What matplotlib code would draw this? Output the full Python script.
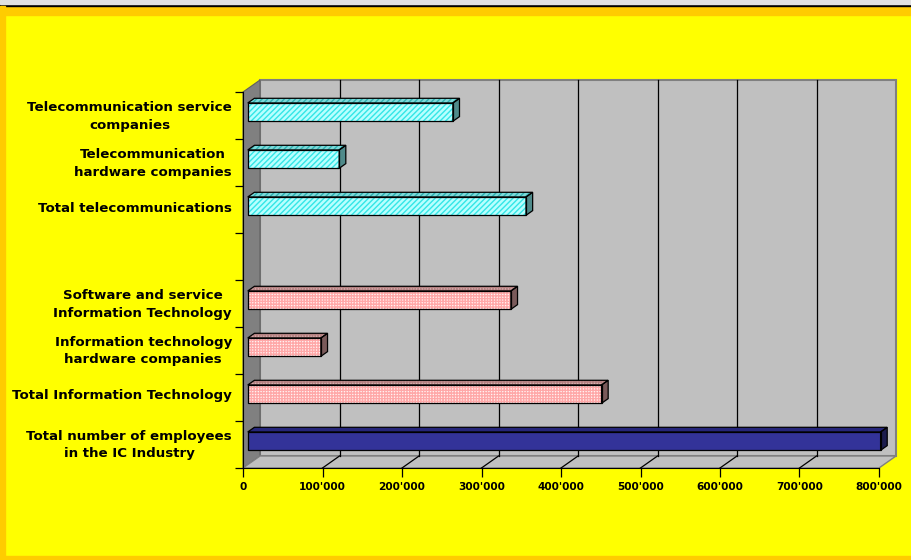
import matplotlib.pyplot as plt
import matplotlib.transforms as mtransforms
from matplotlib.patches import Polygon, Rectangle
from matplotlib.ticker import FuncFormatter

categories = [
    "Telecommunication service\ncompanies",
    "Telecommunication\nhardware companies",
    "Total telecommunications",
    "",
    "Software and service\nInformation Technology",
    "Information technology\nhardware companies",
    "Total Information Technology",
    "Total number of employees\nin the IC Industry",
]
employees = [258000, 115000, 350000, None, 331000, 92000, 445000, 796000]
groups = ["tel", "tel", "tel", None, "it", "it", "it", "ic"]
xticks = [0, 100000, 200000, 300000, 400000, 500000, 600000, 700000, 800000]

# front / top / side colours for each bar group
styles = {
    "tel": dict(front="#b8ffff", hatch_front="#33e6e6", top="#7fd9d9", hatch_top="#2fb0b0", side="#4f8a8a"),
    "it": dict(front="#fff4f4", hatch_front="#ffa8a8", top="#d9b3b3", hatch_top="#b38080", side="#7a5a5a"),
    "ic": dict(front="#333399", hatch_front=None, top="#26267a", hatch_top=None, side="#1c1c4d"),
}

W, H = 912, 560
fig = plt.figure(figsize=(W / 100, H / 100), dpi=100)
fig.patch.set_facecolor("#ffff00")

# frame around the sheet
fig.patches.append(Rectangle((0, 1 - 15 / H), 1, 9 / H, transform=fig.transFigure, color="#ffcc00", zorder=0))
fig.patches.append(Rectangle((0, 1 - 6 / H), 1, 2 / H, transform=fig.transFigure, color="black", zorder=0))
fig.patches.append(Rectangle((0, 1 - 4 / H), 1, 4 / H, transform=fig.transFigure, color="#e0e0e0", zorder=0))
fig.patches.append(Rectangle((0, 0), 5 / W, 1 - 6 / H, transform=fig.transFigure, color="#ffcc00", zorder=0))
fig.patches.append(Rectangle((0, 0), 1, 4 / H, transform=fig.transFigure, color="#ffcc00", zorder=0))

left, right, top, bottom = 243, 879, 92, 468
ax = fig.add_axes([left / W, (H - bottom) / H, (right - left) / W, (bottom - top) / H])
ax.set_facecolor("none")
n = len(categories)
xmax = xticks[-1]
ax.set_xlim(0, xmax)
ax.set_ylim(n - 0.5, -0.5)

# depth of the 3D box in pixels, converted to data units
px_x = xmax / (right - left)
px_y = n / (bottom - top)
Dx, Dy = 17 * px_x, 12 * px_y


def P(x, y, f):
    return (x + f * Dx, y - f * Dy)


def poly(pts, fc, ec="none", lw=0, hatch=None, z=1):
    p = Polygon(pts, closed=True, facecolor=fc, edgecolor=ec, linewidth=lw, hatch=hatch,
                clip_on=False, zorder=z)
    ax.add_patch(p)


y0, y1 = -0.5, n - 0.5
# back wall, left wall, floor
poly([P(0, y0, 1), P(xmax, y0, 1), P(xmax, y1, 1), P(0, y1, 1)], "#c0c0c0", "#808080", 1.5, z=0.5)
poly([P(0, y0, 0), P(0, y0, 1), P(0, y1, 1), P(0, y1, 0)], "#808080", "#606060", 0.8, z=0.6)
poly([P(0, y1, 0), P(xmax, y1, 0), P(xmax, y1, 1), P(0, y1, 1)], "#c0c0c0", "#808080", 1.0, z=0.6)

# gridlines on the back wall and floor
for v in xticks[1:-1]:
    ax.plot(*zip(P(v, y0, 1), P(v, y1, 1)), color="black", lw=0.9, clip_on=False, zorder=0.7)
    ax.plot(*zip(P(v, y1, 0), P(v, y1, 1)), color="black", lw=0.9, clip_on=False, zorder=0.7)

plt.rcParams["hatch.linewidth"] = 1.0
f0, f1, h = 0.28, 0.67, 0.195
for i, (v, g) in enumerate(zip(employees, groups)):
    if v is None:
        continue
    s = styles[g]
    front = [P(0, i - h, f0), P(v, i - h, f0), P(v, i + h, f0), P(0, i + h, f0)]
    topf = [P(0, i - h, f0), P(v, i - h, f0), P(v, i - h, f1), P(0, i - h, f1)]
    side = [P(v, i - h, f0), P(v, i + h, f0), P(v, i + h, f1), P(v, i - h, f1)]
    if s["hatch_front"]:
        hatch = "//////" if g == "tel" else "++++++"
        poly(front, s["front"], s["hatch_front"], 0, hatch, z=2)
        poly(topf, s["top"], s["hatch_top"], 0, hatch, z=2)
    else:
        poly(front, s["front"], z=2)
        poly(topf, s["top"], z=2)
    poly(side, s["side"], z=2)
    for pts in (front, topf, side):
        poly(pts, "none", "black", 0.9, z=3)

for sp in ("top", "right"):
    ax.spines[sp].set_visible(False)
ax.spines["left"].set_color("black")
ax.spines["bottom"].set_color("black")
ax.spines["left"].set_zorder(4)
ax.spines["bottom"].set_zorder(4)

ax.set_xticks(xticks)
ax.xaxis.set_major_formatter(FuncFormatter(lambda v, p: f"{int(v):,}".replace(",", "'")))
ax.tick_params(axis="x", direction="out", length=6.5, width=0.9, pad=3.5, labelsize=7.6)
for lab in ax.get_xticklabels():
    lab.set_fontweight("bold")

ax.set_yticks(range(n))
ax.set_yticklabels(categories, fontsize=9.6, fontweight="bold", multialignment="center", linespacing=1.45)
ax.set_yticks([k - 0.5 for k in range(n + 1)], minor=True)
ax.tick_params(axis="y", which="major", length=0, pad=8)
ax.tick_params(axis="y", which="minor", direction="out", length=5.8, width=0.9)

# lift the category labels a little above the slot centre
lift = mtransforms.ScaledTranslation(0, 3 / 100, fig.dpi_scale_trans)
for lab in ax.get_yticklabels():
    lab.set_transform(lab.get_transform() + lift)

fig.savefig("out.png", dpi=100, facecolor=fig.get_facecolor())
